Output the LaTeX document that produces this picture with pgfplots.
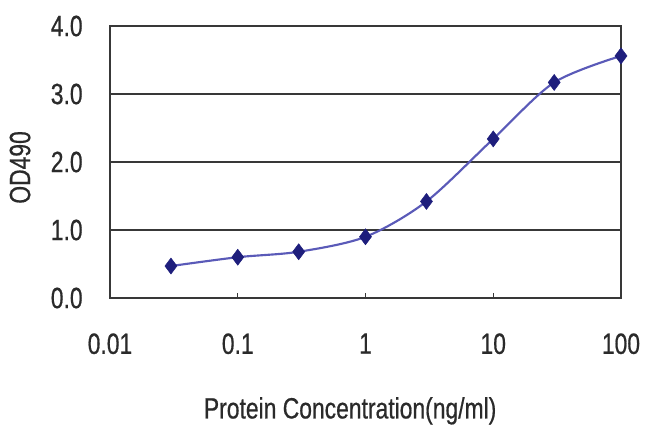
\documentclass[border=0pt]{standalone}
\usepackage{pgfplots}
\pgfplotsset{compat=1.18}
\usepackage{fontspec}
\setmainfont[FakeStretch=0.78, FakeBold=0.6]{Liberation Sans}
\definecolor{txt}{HTML}{2A2A2A}
\definecolor{gridc}{HTML}{383838}
\definecolor{linec}{HTML}{5A5AB8}
\definecolor{markc}{HTML}{1E1E7C}
\begin{document}
\begin{tikzpicture}[x=1pt,y=1pt]
\begin{axis}[
  at={(0,0)}, anchor=south west,
  scale only axis,
  width=383.25pt, height=204pt,
  xmode=log,
  xmin=0.01, xmax=100,
  ymin=0, ymax=4,
  xtick={0.01,0.1,1,10,100},
  xticklabels={0.01,0.1,1,10,100},
  ytick={0,1,2,3,4},
  yticklabels={0.0,1.0,2.0,3.0,4.0},
  minor x tick style={draw=none},
  minor tick length=0pt,
  tick align=inside,
  xtick pos=bottom,
  ytick pos=left,
  major tick length=4pt,
  y tick style={draw=none},
  x tick style={gridc, line width=1pt},
  ymajorgrids,
  grid style={gridc, line width=1.4pt},
  axis line style={gridc, line width=1.3pt},
  tick label style={font=\fontsize{22}{24}\selectfont, text=txt},
  yticklabel style={xshift=-17pt},
  xticklabel style={yshift=-23pt},
  label style={font=\fontsize{22}{24}\selectfont, text=txt},
  xlabel={Protein Concentration(ng/ml)},
  ylabel={OD490},
  x label style={at={(axis description cs:0.47,-0.415)}, anchor=center},
  y label style={at={(axis description cs:-0.176,0.48)}, anchor=center, rotate=0},
  clip=false,
]
\addplot[smooth, color=linec, line width=1.6pt, mark=diamond*, mark size=6pt,
  mark options={fill=markc, draw=markc, line width=0.4pt}]
  coordinates {
  (0.03,0.47)
  (0.1,0.60)
  (0.3,0.68)
  (1,0.90)
  (3,1.42)
  (10,2.34)
  (30,3.17)
  (100,3.56)
  };
\end{axis}
\path (-82.5pt,-103.5pt) rectangle (405pt,223.5pt);
\end{tikzpicture}
\end{document}
